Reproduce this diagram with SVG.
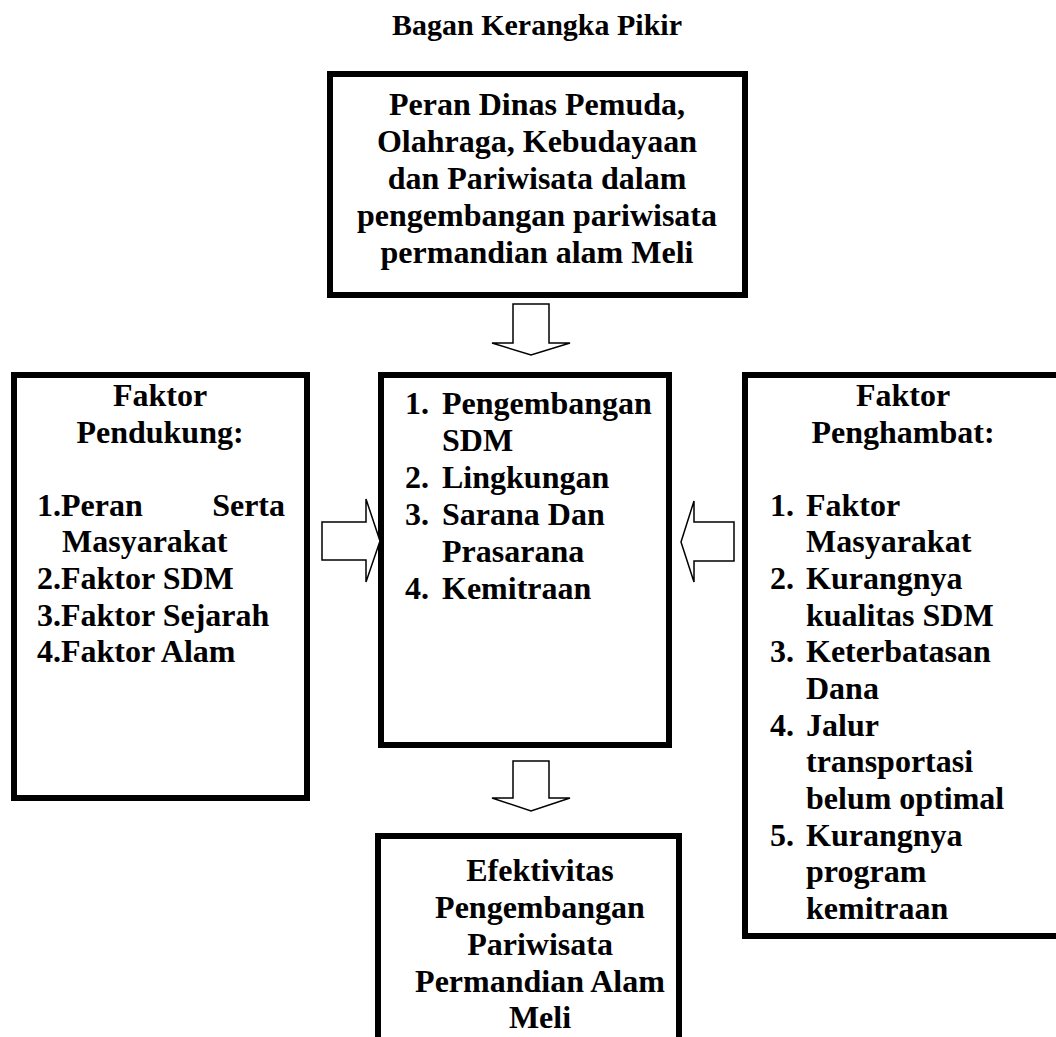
<svg xmlns="http://www.w3.org/2000/svg" width="1056" height="1037" viewBox="0 0 1056 1037">
<style>
.box{fill:#fff;stroke:#000;stroke-width:6}
.arr{fill:#fff;stroke:#000;stroke-width:1.5;stroke-linejoin:miter}
text{font-family:"Liberation Serif","Times New Roman",serif;font-weight:bold;font-size:32px;fill:#000}
.c{text-anchor:middle}
.e{text-anchor:end}
</style>
<rect width="1056" height="1037" fill="#fff"/>
<text id="title" x="537" y="35" class="c" style="font-size:30px">Bagan Kerangka Pikir</text>
<g id="top">
<rect class="box" x="330" y="74" width="415" height="221"/>
<text class="c" x="537" y="115">Peran Dinas Pemuda,</text>
<text class="c" x="537" y="152">Olahraga, Kebudayaan</text>
<text class="c" x="537" y="189">dan Pariwisata dalam</text>
<text class="c" x="537" y="226">pengembangan pariwisata</text>
<text class="c" x="537" y="263">permandian alam Meli</text>
</g>
<g id="pendukung">
<rect class="box" x="14" y="375" width="293" height="423"/>
<text class="c" x="160" y="406">Faktor</text>
<text class="c" x="160" y="443">Pendukung:</text>
<text x="37" y="516">1.Peran</text>
<text class="e" x="285" y="516">Serta</text>
<text x="62" y="552">Masyarakat</text>
<text x="37" y="589">2.Faktor SDM</text>
<text x="37" y="626">3.Faktor Sejarah</text>
<text x="37" y="662">4.Faktor Alam</text>
</g>
<g id="center">
<rect class="box" x="381" y="375" width="288" height="370"/>
<text x="405" y="414">1.</text><text x="442" y="414">Pengembangan</text>
<text x="442" y="451">SDM</text>
<text x="405" y="488">2.</text><text x="442" y="488">Lingkungan</text>
<text x="405" y="525">3.</text><text x="442" y="525">Sarana Dan</text>
<text x="442" y="562">Prasarana</text>
<text x="405" y="599">4.</text><text x="442" y="599">Kemitraan</text>
</g>
<g id="penghambat">
<rect class="box" x="745" y="375" width="330" height="561"/>
<text class="c" x="903" y="406">Faktor</text>
<text class="c" x="903" y="443">Penghambat:</text>
<text x="770" y="516">1.</text><text x="806" y="516">Faktor</text>
<text x="806" y="552">Masyarakat</text>
<text x="770" y="589">2.</text><text x="806" y="589">Kurangnya</text>
<text x="806" y="626">kualitas SDM</text>
<text x="770" y="662">3.</text><text x="806" y="662">Keterbatasan</text>
<text x="806" y="699">Dana</text>
<text x="770" y="736">4.</text><text x="806" y="736">Jalur</text>
<text x="806" y="772">transportasi</text>
<text x="806" y="809">belum optimal</text>
<text x="770" y="846">5.</text><text x="806" y="846">Kurangnya</text>
<text x="806" y="882">program</text>
<text x="806" y="919">kemitraan</text>
</g>
<g id="hasil">
<rect class="box" x="378" y="836" width="301" height="220"/>
<text class="c" x="540" y="881">Efektivitas</text>
<text class="c" x="540" y="918">Pengembangan</text>
<text class="c" x="540" y="955">Pariwisata</text>
<text class="c" x="540" y="992">Permandian Alam</text>
<text class="c" x="540" y="1028">Meli</text>
</g>
<g id="connectors">
<path class="arr" d="M513,304 H549 V343 H570 L531,355 L492,343 H513 Z"/>
<path class="arr" d="M513,761 H549 V798 H570 L531,811 L492,798 H513 Z"/>
<path class="arr" d="M322,522 H366 V499 L380,541 L366,582 V560 H322 Z"/>
<path class="arr" d="M734,522 H694 V501 L681,542 L694,582 V561 H734 Z"/>
</g>
</svg>
